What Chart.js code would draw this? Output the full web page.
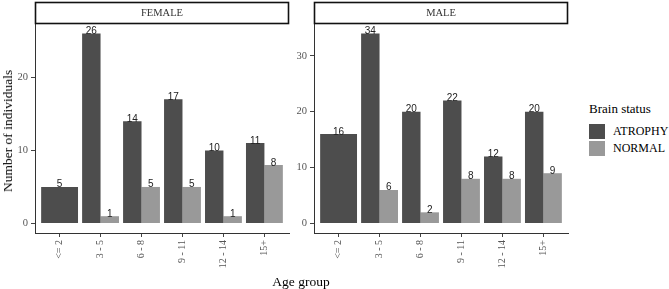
<!DOCTYPE html>
<html lang="en">
  <head>
    <meta charset="UTF-8" />
    <title>Brain status by age group</title>
    <style>
      * {
        margin: 0;
        padding: 0;
        box-sizing: border-box;
      }
      body {
        width: 669px;
        height: 289px;
        background: white;
        position: relative;
        overflow: hidden;
        font-family: "Liberation Serif", "Times New Roman", serif;
      }
      canvas {
        position: absolute;
        top: 0;
      }
      #female { left: 0; }
      #male { left: 279px; }
      .yTitle {
        position: absolute;
        left: 8px;
        top: 131px;
        transform: translate(-50%, -50%) rotate(-90deg);
        font-size: 13.5px;
        white-space: nowrap;
        color: #000;
      }
      .xTitle {
        position: absolute;
        left: 301px;
        top: 282px;
        transform: translate(-50%, -50%);
        font-size: 13.5px;
        white-space: nowrap;
        color: #000;
      }
      .legend {
        position: absolute;
        left: 589px;
        top: 101px;
        font-family: "Liberation Serif", "Times New Roman", serif;
      }
      .legend .title {
        font-size: 13px;
        margin-bottom: 6px;
      }
      .legend .item {
        display: flex;
        align-items: center;
        height: 17px;
        font-size: 12px;
      }
      .legend .key {
        width: 16px;
        height: 15px;
        margin-right: 8px;
      }
    </style>
  </head>
  <body>
    <canvas id="female" width="290" height="289"></canvas>
    <canvas id="male" width="290" height="289"></canvas>
    <div class="yTitle">Number of individuals</div>
    <div class="xTitle">Age group</div>
    <div class="legend">
      <div class="title">Brain status</div>
      <div class="item"><div class="key" style="background:#4d4d4d"></div>ATROPHY</div>
      <div class="item"><div class="key" style="background:#999999"></div>NORMAL</div>
    </div>

    <script src="https://cdn.jsdelivr.net/npm/chart.js"></script>

    <script>
      const ageGroups = ["<= 2", "3 - 5", "6 - 8", "9 - 11", "12 - 14", "15+"];
      const statuses = ["ATROPHY", "NORMAL"];
      const femaleAtrophy = [5, 26, 14, 17, 10, 11];
      const femaleNormal = [null, 1, 5, 5, 1, 8];
      const maleAtrophy = [16, 34, 20, 22, 12, 20];
      const maleNormal = [null, 6, 2, 8, 8, 9];

      const colors = ["#4d4d4d", "#999999"];
      const serif = "'Liberation Serif', 'Times New Roman', serif";

      // facet strip box above the panel
      const strip = {
        id: "strip",
        afterDraw(chart, args, opts) {
          const { ctx, chartArea } = chart;
          ctx.save();
          ctx.fillStyle = "white";
          ctx.strokeStyle = "#111";
          ctx.lineWidth = 1.6;
          ctx.fillRect(chartArea.left, 2.5, chartArea.right - chartArea.left, 21);
          ctx.strokeRect(chartArea.left + 0.5, 2.5, chartArea.right - chartArea.left - 1, 21);
          ctx.fillStyle = "#333";
          ctx.font = "10.5px " + serif;
          ctx.textAlign = "center";
          ctx.textBaseline = "middle";
          ctx.fillText(opts.text, (chartArea.left + chartArea.right) / 2, 13.5);
          ctx.restore();
        },
      };

      // count labels on top of bars
      const barLabels = {
        id: "barLabels",
        afterDatasetsDraw(chart) {
          const { ctx, data } = chart;
          ctx.save();
          ctx.font = "10px 'Liberation Sans', Arial, sans-serif";
          ctx.fillStyle = "#222";
          ctx.textAlign = "center";
          ctx.textBaseline = "alphabetic";
          data.datasets.forEach((ds, i) => {
            chart.getDatasetMeta(i).data.forEach((bar, j) => {
              const v = ds.data[j].y;
              if (v === null) return;
              ctx.fillText(v, bar.x, bar.y + 0.5);
            });
          });
          ctx.restore();
        },
      };

      function makePanel(id, title, atrophy, normal) {
        const series = [atrophy, normal];
        const maxVal = Math.max(...atrophy, ...normal.filter((v) => v !== null));
        const datasets = statuses.map((s, k) => ({
          label: s,
          data: ageGroups.map((_, i) => ({ x: i, y: series[k][i] })),
          backgroundColor: colors[k],
          borderWidth: 0,
          categoryPercentage: 0.9,
          barPercentage: 1.0,
          skipNull: true,
        }));

        return new Chart(document.getElementById(id), {
          type: "bar",
          data: { datasets: datasets },
          options: {
            responsive: false,
            animation: false,
            devicePixelRatio: 1,
            layout: { padding: { top: 24, right: 1, left: 0, bottom: 0 } },
            plugins: {
              legend: { display: false },
              tooltip: { enabled: false },
              strip: { text: title },
            },
            scales: {
              x: {
                type: "linear",
                offset: false,
                min: -0.6,
                max: ageGroups.length - 0.4,
                afterBuildTicks: (s) => {
                  s.ticks = ageGroups.map((_, i) => ({ value: i }));
                },
                afterFit: (s) => {
                  s.height = 56;
                },
                ticks: {
                  autoSkip: false,
                  minRotation: 90,
                  maxRotation: 90,
                  padding: 3,
                  color: "#555",
                  font: { family: serif, size: 10 },
                  callback: (v) => ageGroups[v],
                },
                grid: {
                  offset: false,
                  drawOnChartArea: false,
                  tickLength: 4,
                  color: "#444",
                },
                border: { color: "#333", width: 1 },
              },
              y: {
                min: -0.05 * maxVal,
                max: 1.05 * maxVal,
                afterBuildTicks: (s) => {
                  const t = [];
                  for (let v = 0; v <= s.max; v += 10) t.push({ value: v });
                  s.ticks = t;
                },
                afterFit: (s) => {
                  s.width = 35;
                },
                ticks: {
                  stepSize: 10,
                  padding: 3,
                  color: "#555",
                  font: { family: serif, size: 10.5 },
                },
                grid: {
                  drawOnChartArea: false,
                  tickLength: 4,
                  color: "#444",
                },
                border: { color: "#333", width: 1 },
              },
            },
          },
          plugins: [strip, barLabels],
        });
      }

      makePanel("female", "FEMALE", femaleAtrophy, femaleNormal);
      makePanel("male", "MALE", maleAtrophy, maleNormal);
    </script>
  </body>
</html>
